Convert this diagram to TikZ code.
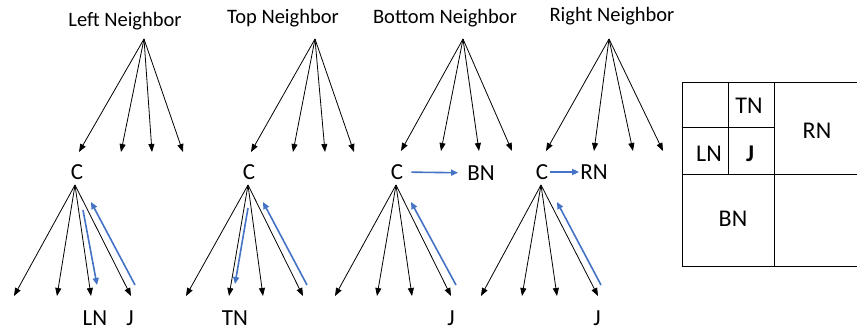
\documentclass[tikz,border=0pt]{standalone}
\usepackage{fontspec}
\setmainfont{Carlito}
\usetikzlibrary{arrows.meta}
\definecolor{flowblue}{RGB}{68,114,196}
\begin{document}
\begin{tikzpicture}[x=1pt,y=-1pt,
  title/.style={font=\fontsize{20.5}{20.5}\selectfont, inner sep=0pt, anchor=base},
  lbl/.style={font=\fontsize{23}{23}\selectfont, inner sep=0pt},
  cell/.style={font=\fontsize{24}{24}\selectfont, inner sep=0pt},
  edge/.style={line width=0.8pt, -{Triangle[length=8pt,width=6pt]}},
  flow/.style={flowblue, line width=1.6pt, -{Triangle[length=7pt,width=6pt]}}]
\useasboundingbox (0,0) rectangle (857,331);

% ---------- Left neighbor ----------
\node[title] (t1) at (125,27) {Left Neighbor};
\coordinate (r1) at (144,39);
\foreach \x/\n in {79/a,121/b,152/c,183/d} \coordinate (r1\n) at (\x,152);
\foreach \n in {a,b,c,d} \draw[edge] (r1) -- (r1\n);
\node[lbl] (c1) at (77,172) {C};
\coordinate (k1) at (75,185);
\foreach \x/\n in {14/a,57/b,91/c,131/d} \coordinate (k1\n) at (\x,296);
\foreach \n in {a,b,c,d} \draw[edge] (k1) -- (k1\n);
\node[lbl] (ln1) at (95,318) {LN};
\node[lbl] (j1) at (130,318) {J};
\coordinate (f1a) at (83,210); \coordinate (f1b) at (97,285);
\coordinate (g1a) at (135,285); \coordinate (g1b) at (91,202);
\draw[flow] (f1a) -- (f1b);
\draw[flow] (g1a) -- (g1b);

% ---------- Top neighbor ----------
\node[title] (t2) at (283,24) {Top Neighbor};
\coordinate (r2) at (315,39);
\foreach \x/\n in {251/a,293/b,325/c,354/d} \coordinate (r2\n) at (\x,152);
\foreach \n in {a,b,c,d} \draw[edge] (r2) -- (r2\n);
\node[lbl] (c2) at (249,172) {C};
\coordinate (k2) at (248,185);
\foreach \x/\n in {186/a,229/b,263/c,303/d} \coordinate (k2\n) at (\x,296);
\foreach \n in {a,b,c,d} \draw[edge] (k2) -- (k2\n);
\node[lbl] (tn2) at (235,318) {TN};
\coordinate (f2a) at (248,208); \coordinate (f2b) at (235,284);
\coordinate (g2a) at (307,285); \coordinate (g2b) at (263,202);
\draw[flow] (f2a) -- (f2b);
\draw[flow] (g2a) -- (g2b);

% ---------- Bottom neighbor ----------
\node[title] (t3) at (445,24) {Bottom Neighbor};
\coordinate (r3) at (463,39);
\foreach \x/\n in {401/a,441/b,479/c,512/d} \coordinate (r3\n) at (\x,151);
\foreach \n in {a,b,c,d} \draw[edge] (r3) -- (r3\n);
\node[lbl] (c3) at (397,172) {C};
\node[lbl] (bn3) at (481,173) {BN};
\draw[flow, shorten <=8pt, shorten >=9pt] (c3) -- (bn3);
\coordinate (k3) at (396,185);
\foreach \x/\n in {335/a,377/b,412/c,451/d} \coordinate (k3\n) at (\x,296);
\foreach \n in {a,b,c,d} \draw[edge] (k3) -- (k3\n);
\node[lbl] (j3) at (451,318) {J};
\coordinate (g3a) at (456,285); \coordinate (g3b) at (411,202);
\draw[flow] (g3a) -- (g3b);

% ---------- Right neighbor ----------
\node[title] (t4) at (612,22) {Right Neighbor};
\coordinate (r4) at (609,39);
\foreach \x/\n in {546/a,594/b,633/c,663/d} \coordinate (r4\n) at (\x,151);
\foreach \n in {a,b,c,d} \draw[edge] (r4) -- (r4\n);
\node[lbl] (c4) at (542,172) {C};
\node[lbl] (rn4) at (594,172) {RN};
\draw[flow, shorten <=2pt, shorten >=1pt] (c4) -- (rn4);
\coordinate (k4) at (541,185);
\foreach \x/\n in {481/a,522/b,557/c,598/d} \coordinate (k4\n) at (\x,296);
\foreach \n in {a,b,c,d} \draw[edge] (k4) -- (k4\n);
\node[lbl] (j4) at (597,318) {J};
\coordinate (g4a) at (601,285); \coordinate (g4b) at (557,202);
\draw[flow] (g4a) -- (g4b);

% ---------- Block layout ----------
\draw[line width=0.8pt] (857,82) -- (682,82) -- (682,266) -- (857,266);
\draw[line width=0.8pt] (682,174) -- (857,174);
\draw[line width=0.8pt] (682,127) -- (774,127);
\draw[line width=0.8pt] (728,82) -- (728,174);
\draw[line width=0.8pt] (774,82) -- (774,266);
\node[cell] (qtn) at (749,106) {TN};
\node[cell] (qln) at (709,154) {LN};
\node[cell] (qj) at (750,154) {\bfseries J};
\node[cell] (qrn) at (817,131) {RN};
\node[cell] (qbn) at (733,219) {BN};
\end{tikzpicture}
\end{document}
